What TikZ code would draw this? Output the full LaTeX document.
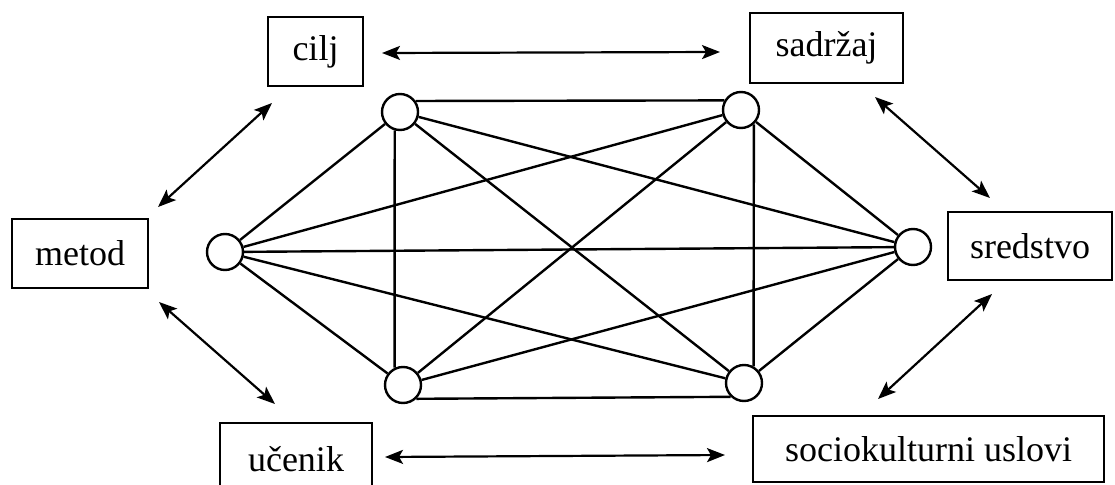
\documentclass[tikz,border=0pt]{standalone}
\usepackage{fontspec}
\setmainfont{Liberation Serif}
\usetikzlibrary{arrows.meta}
\begin{document}
\begin{tikzpicture}[x=1pt,y=-1pt,
  box/.style={draw, line width=2.4pt, rectangle, inner sep=0pt, font=\fontsize{36}{40}\selectfont},
  dot/.style={draw, circle, line width=2.4pt, minimum size=36pt, inner sep=0pt},
  link/.style={line width=2.4pt},
  dbl/.style={line width=2.2pt, {Stealth[length=18pt,width=14pt,inset=4pt]}-{Stealth[length=18pt,width=14pt,inset=4pt]}}]
\useasboundingbox (0,0) rectangle (1115,484);
\clip (0,0) rectangle (1115,484);
% boxes
\node[box, minimum width=95pt, minimum height=69pt] (cilj) at (315.5,51.5) {cilj};
\node[box, minimum width=153pt, minimum height=70pt] (sadrzaj) at (826.5,48) {sadržaj};
\node[box, minimum width=136pt, minimum height=69pt] (metod) at (80,253.5) {metod};
\node[box, minimum width=164pt, minimum height=68pt] (sredstvo) at (1030,246) {sredstvo};
\node[box, minimum width=152pt, minimum height=72pt] (ucenik) at (296,459) {učenik};
\node[box, minimum width=351pt, minimum height=66pt] (socio) at (928.5,449) {sociokulturni uslovi};
% circles
\node[dot] (TL) at (400,112) {};
\node[dot] (TR) at (741,110) {};
\node[dot] (L) at (225,252) {};
\node[dot] (R) at (913,247) {};
\node[dot] (BL) at (403,385) {};
\node[dot] (BR) at (744,383) {};
% complete graph
\draw[link] (TL.35) -- (TR.150);
\draw[link] (BL.-46) -- (BR.-134);
\draw[link] (TL.-106) -- (BL.116);
\draw[link] (TR.-48) -- (BR.60);
\draw[link] (L) -- (TL);
\draw[link] (L) -- (TR);
\draw[link] (L) -- (R);
\draw[link] (L) -- (BL);
\draw[link] (L) -- (BR);
\draw[link] (R) -- (TL);
\draw[link] (R) -- (TR);
\draw[link] (R) -- (BL);
\draw[link] (R) -- (BR);
\draw[link] (TL) -- (BR);
\draw[link] (TR) -- (BL);
% arrow ends
\coordinate (a1s) at (382,53);  \coordinate (a1e) at (720,52);
\coordinate (a2s) at (272,103); \coordinate (a2e) at (158,207);
\coordinate (a3s) at (875,97);  \coordinate (a3e) at (990,198);
\coordinate (a4s) at (159,302); \coordinate (a4e) at (275,404);
\coordinate (a5s) at (992,294); \coordinate (a5e) at (878,399);
\coordinate (a6s) at (385,457); \coordinate (a6e) at (725,455);
\draw[dbl] (a1s) -- (a1e);
\draw[dbl] (a2s) -- (a2e);
\draw[dbl] (a3s) -- (a3e);
\draw[dbl] (a4s) -- (a4e);
\draw[dbl] (a5s) -- (a5e);
\draw[dbl] (a6s) -- (a6e);
\end{tikzpicture}
\end{document}
